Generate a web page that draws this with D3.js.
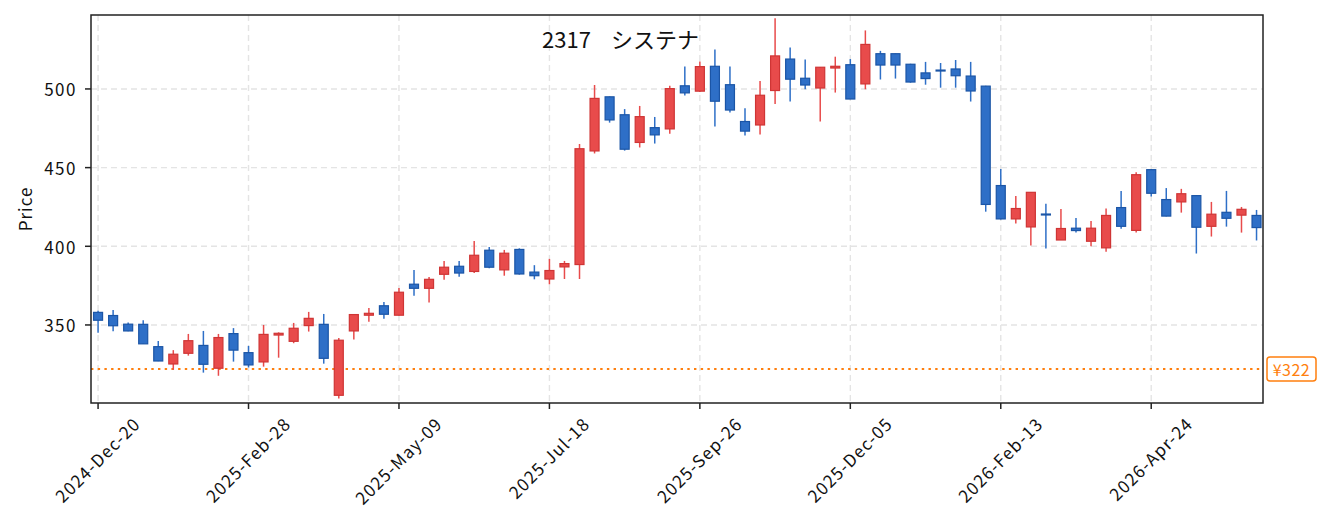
<!DOCTYPE html>
<html lang="ja">
<head>
<meta charset="UTF-8">
<title>2317 システナ</title>
<script src="https://cdn.jsdelivr.net/npm/d3@7"></script>
<style>
  body { margin: 0; background: #fff; }
  text { font-family: "Noto Sans CJK JP", "Noto Sans", sans-serif; }
</style>
</head>
<body>
<div id="chart"></div>
<script>
// weekly candles, first week 2024-Dec-20
const opens  = [358,356,350.5,350.4,336.2,325.2,332,337,322.5,344.5,332.4,326.5,343.6,339.6,349.6,350.4,305.3,346.2,356.2,362.2,
                356.2,375.9,373.3,382.2,387.3,384,397.5,385,398,383.6,379.2,386.9,388.4,460.6,495,483.6,466,475.4,474.6,502,
                498.6,514.4,502.7,479.3,477.1,499,519,506.8,500.6,513.3,515.4,503.2,522.4,522.4,515.7,510.2,512,512.7,508.2,501.8,
                438.6,417.4,412.3,420.5,404,411.5,403.2,399,424.6,410.1,448.7,429.7,428.2,432.2,412.7,421.6,419.8,419.6]
const highs  = [359,359.5,351.5,353,339.8,334,344.3,346.2,344.3,348,336.7,350,345.3,351.3,358.3,357,341.7,357,360.8,364.6,
                373.5,385,380.5,390.7,390.7,403.4,399.6,397.7,398.7,388,392,390.7,465,502.5,495.2,487.2,489.2,482.2,502,514.2,
                517.4,525,514.2,487.8,505,545,526.3,518.7,514,520.5,519,537.2,524.2,522.5,516,517.2,516.5,518.4,517.2,502,
                449.2,432,434.5,427,423.7,418,416,424,435.2,447,449,437,436.5,432.5,428.2,435.2,425,423.1]
const lows   = [345,346,346,338,327,321.5,330.5,319.7,317.7,326.7,323,323.5,329.2,338.4,345.8,325.4,303.2,340.7,352,354,
                356,368.6,364.2,378.8,380.7,383,386,381.3,382,379,375.8,379.2,379.2,459,478.6,460.8,462.8,465.3,471.6,495.8,
                498,476.2,485,470.4,471,490.5,492,499.8,479.3,497.7,493.5,499.8,506,506.6,504,502.7,500.8,500.8,492,422,
                417,414.5,400.5,398.6,404,408.7,400,396.6,411.2,408.7,431.6,419,421.4,395.4,406.2,412.5,408.7,403.7]
const closes = [353,349.5,346.2,338,327.1,331.4,340,325,342,334,324.6,344,344.7,347.9,354.2,328.8,340.3,356.6,357.4,356.8,
                370.8,373.3,379,386.7,383,394.3,386.7,395.6,382.4,381.3,384.6,389,462,494,480.3,461.7,482.4,470.8,500.2,497.5,
                514.2,492.2,486.6,473.2,496,521,506.2,502.5,513.8,514.4,493.6,528.3,515.2,515.2,504.4,506.6,511.4,508.4,498.7,426.6,
                417.4,424,434.3,419.9,411.3,410,411.5,419.6,412.7,445.5,433.7,419.2,433.4,412.1,420.4,417.8,423.5,411.9]

const tickIdx    = [0,10,20,30,40,50,60,70]
const tickLabels = ['2024-Dec-20','2025-Feb-28','2025-May-09','2025-Jul-18','2025-Sep-26','2025-Dec-05','2026-Feb-13','2026-Apr-24']
const yTicks     = [350,400,450,500]
const refPrice   = 322
const titleCode  = '2317'
const titleName  = 'システナ'

const W = 1328, H = 531
const m = {left: 91, right: 65, top: 15, bottom: 128}

const svg = d3.select('#chart').append('svg')
  .attr('width', W).attr('height', H)

const x = d3.scaleLinear().domain([-0.47, 77.43]).range([m.left, W - m.right])
const y = d3.scaleLinear().domain([300.4, 547.0]).range([H - m.bottom, m.top])

const upFill = '#e84b4b', upEdge = '#cf3535'
const dnFill = '#2e6fc7', dnEdge = '#1b55a6'
const orange = '#ff7f0e'

// grid
const grid = svg.append('g')
grid.selectAll('.gy').data(yTicks).enter().append('line')
  .attr('x1', m.left).attr('x2', W - m.right)
  .attr('y1', d => y(d)).attr('y2', d => y(d))
  .attr('stroke', '#e4e4e4').attr('stroke-width', 1.4).attr('stroke-dasharray', '6,4')
grid.selectAll('.gx').data(tickIdx).enter().append('line')
  .attr('x1', d => x(d)).attr('x2', d => x(d))
  .attr('y1', m.top).attr('y2', H - m.bottom)
  .attr('stroke', '#e4e4e4').attr('stroke-width', 1.4).attr('stroke-dasharray', '6,4')

// reference line
svg.append('line')
  .attr('x1', m.left).attr('x2', W - m.right)
  .attr('y1', y(refPrice)).attr('y2', y(refPrice))
  .attr('stroke', orange).attr('stroke-width', 2.2).attr('stroke-dasharray', '2.4,4.3')

// candles
const candles = opens.map((o, i) => ({i: i, o: o, h: highs[i], l: lows[i], c: closes[i]}))
const bw = 9
const g = svg.append('g')
g.selectAll('.wick').data(candles).enter().append('line')
  .attr('x1', d => x(d.i)).attr('x2', d => x(d.i))
  .attr('y1', d => y(d.h)).attr('y2', d => y(d.l))
  .attr('stroke', d => d.c >= d.o ? upFill : dnFill)
  .attr('stroke-width', 1.5)
g.selectAll('.body').data(candles).enter().append('rect')
  .attr('x', d => x(d.i) - bw / 2)
  .attr('width', bw)
  .attr('y', d => y(Math.max(d.o, d.c)))
  .attr('height', d => Math.max(0.6, Math.abs(y(d.o) - y(d.c))))
  .attr('fill', d => d.c >= d.o ? upFill : dnFill)
  .attr('stroke', d => d.c >= d.o ? upEdge : dnEdge)
  .attr('stroke-width', 1.2)

// frame
svg.append('rect')
  .attr('x', m.left).attr('y', m.top)
  .attr('width', W - m.left - m.right).attr('height', H - m.top - m.bottom)
  .attr('fill', 'none').attr('stroke', '#222').attr('stroke-width', 1.5)

// y axis
const yAxis = svg.append('g')
yAxis.selectAll('line').data(yTicks).enter().append('line')
  .attr('x1', m.left - 6).attr('x2', m.left)
  .attr('y1', d => y(d)).attr('y2', d => y(d))
  .attr('stroke', '#222').attr('stroke-width', 1.5)
yAxis.selectAll('text').data(yTicks).enter().append('text')
  .attr('x', m.left - 14).attr('y', d => y(d))
  .attr('text-anchor', 'end').attr('dominant-baseline', 'central')
  .attr('font-size', 17).attr('letter-spacing', 1.5).attr('fill', '#111')
  .text(d => d)

svg.append('text')
  .attr('transform', 'translate(24,' + ((m.top + H - m.bottom) / 2) + ') rotate(-90)')
  .attr('text-anchor', 'middle').attr('dominant-baseline', 'central')
  .attr('font-size', 17).attr('letter-spacing', 1).attr('fill', '#111')
  .text('Price')

// x axis
const xAxis = svg.append('g')
xAxis.selectAll('line').data(tickIdx).enter().append('line')
  .attr('x1', d => x(d)).attr('x2', d => x(d))
  .attr('y1', H - m.bottom).attr('y2', H - m.bottom + 6)
  .attr('stroke', '#222').attr('stroke-width', 1.5)
xAxis.selectAll('text').data(tickIdx).enter().append('text')
  .attr('text-anchor', 'middle').attr('dominant-baseline', 'central')
  .attr('font-size', 17).attr('letter-spacing', 1.2).attr('fill', '#111')
  .text((d, k) => tickLabels[k])
  .attr('transform', function(d) {
    const L = this.getComputedTextLength()
    const s = (L + 17) / Math.SQRT2
    return 'translate(' + (x(d) - 1) + ',' + (H - m.bottom + 11 + s / 2) + ') rotate(-45)'
  })

// title (code and name set apart by a double space)
const t = svg.append('text').attr('y', 48).attr('font-size', 22).attr('fill', '#111')
t.append('tspan').attr('x', 542).text(titleCode)
t.append('tspan').attr('x', 611).text(titleName)

// price tag
const tag = svg.append('g').attr('transform', 'translate(' + (W - m.right + 4) + ',' + y(refPrice) + ')')
tag.append('rect')
  .attr('x', 0).attr('y', -12).attr('width', 49).attr('height', 24).attr('rx', 3)
  .attr('fill', '#fff').attr('stroke', orange).attr('stroke-width', 1.5)
tag.append('text')
  .attr('x', 24.5).attr('y', 0)
  .attr('text-anchor', 'middle').attr('dominant-baseline', 'central')
  .attr('font-size', 16).attr('letter-spacing', 0.5).attr('fill', orange)
  .text('¥' + refPrice)
</script>
</body>
</html>
